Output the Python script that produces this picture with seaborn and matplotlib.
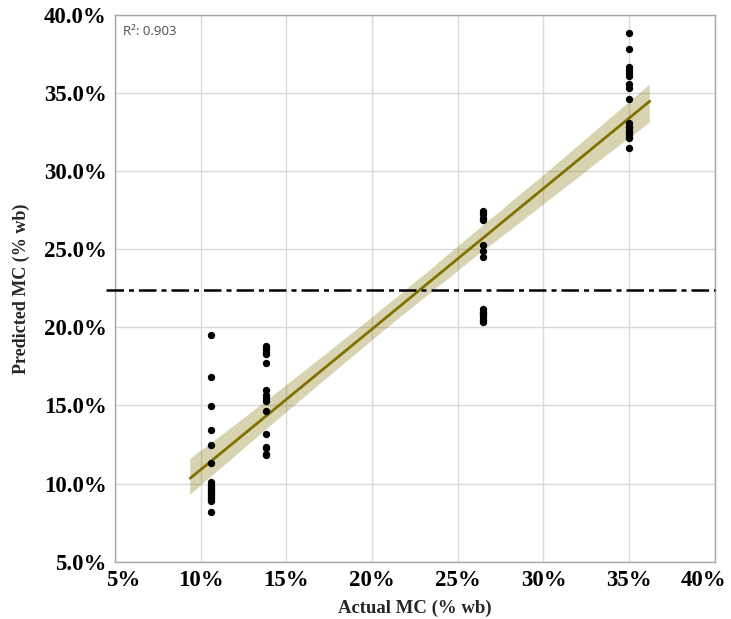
import numpy as np
import pandas as pd
import matplotlib
matplotlib.use("Agg")
import matplotlib.pyplot as plt
from matplotlib.ticker import FuncFormatter
from matplotlib.transforms import ScaledTranslation
import seaborn as sns

# Actual moisture content levels (% wb) and predicted values at each level
actual_levels = [10.6, 13.8, 26.5, 35.0]
pred_10_6 = [19.5, 16.8, 14.95, 13.4, 12.5, 11.3, 10.1, 9.9, 9.8, 9.65, 9.5, 9.4,
             9.3, 9.15, 9.0, 8.9, 8.2]
pred_13_8 = [18.8, 18.6, 18.45, 18.3, 17.75, 16.0, 15.7, 15.45, 15.3, 14.65, 13.2,
             12.35, 12.3, 11.9, 11.8]
pred_26_5 = [27.45, 27.25, 27.0, 26.85, 25.3, 24.9, 24.5, 21.15, 21.0, 20.9, 20.8,
             20.65, 20.5, 20.35]
pred_35_0 = [38.85, 37.85, 36.7, 36.5, 36.3, 36.1, 35.55, 35.3, 34.65, 33.1, 32.85,
             32.8, 32.6, 32.5, 32.35, 32.2, 32.1, 31.5]
r2_label = "R\u00b2: 0.903"
threshold = 22.4
x_ticks = [5, 10, 15, 20, 25, 30, 35, 40]
y_ticks = [5, 10, 15, 20, 25, 30, 35, 40]

groups = [pred_10_6, pred_13_8, pred_26_5, pred_35_0]
df = pd.DataFrame({
    "actual": np.concatenate([[a] * len(g) for a, g in zip(actual_levels, groups)]),
    "predicted": np.concatenate(groups),
})

sns.set_style("white")
fig = plt.figure(figsize=(7.31, 6.19), dpi=100)
ax = fig.add_axes([0.157, 0.0926, 0.821, 0.8832])

grid_c = "#d9d9d9"
spine_c = "#a6a6a6"
olive = "#7f7200"

# fitted line spans slightly beyond the measured range
ax.set_xlim(9.4, 36.2)
sns.regplot(data=df, x="actual", y="predicted", ax=ax, scatter=False,
            truncate=False, ci=95, seed=3,
            line_kws=dict(color=olive, lw=2.0, zorder=4))
for coll in ax.collections:
    coll.set_alpha(0.3)
    coll.set_facecolor(olive)
    coll.set_edgecolor("none")
    coll.set_zorder(3)

sns.scatterplot(data=df, x="actual", y="predicted", ax=ax, color="black",
                s=28, edgecolor="black", linewidth=0, zorder=5)

ax.axhline(threshold, xmin=-0.014, xmax=1.0, color="black", lw=1.8,
           dashes=(7, 2, 2, 2), clip_on=False, zorder=6)

ax.set_xlim(5, 40)
ax.set_ylim(5, 40)
ax.set_xticks(x_ticks)
ax.set_yticks(y_ticks)
ax.xaxis.set_major_formatter(FuncFormatter(lambda v, p: f"{v:.0f}%"))
ax.yaxis.set_major_formatter(FuncFormatter(lambda v, p: f"{v:.1f}%"))
ax.grid(True, color=grid_c, lw=1.0, zorder=0)
ax.set_axisbelow(True)
for s in ax.spines.values():
    s.set_color(spine_c)
    s.set_linewidth(1.0)
ax.tick_params(axis="both", length=4, width=1.0, color=spine_c, pad=2,
               labelsize=16.5, labelcolor="black")
for lab in ax.get_xticklabels() + ax.get_yticklabels():
    lab.set_family("Liberation Serif")
    lab.set_fontweight("bold")

# keep the outer x tick labels inside the figure
xlabs = ax.get_xticklabels()
xlabs[0].set_transform(xlabs[0].get_transform() +
                       ScaledTranslation(8 / 100, 0, fig.dpi_scale_trans))
xlabs[-1].set_transform(xlabs[-1].get_transform() +
                        ScaledTranslation(-11 / 100, 0, fig.dpi_scale_trans))

ax.set_xlabel("Actual MC (% wb)", family="Liberation Serif", fontweight="bold",
              fontsize=13.5, labelpad=6)
ax.set_ylabel("Predicted MC (% wb)", family="Liberation Serif", fontweight="bold",
              fontsize=13, labelpad=10)

ax.text(0.014, 0.982, r2_label, transform=ax.transAxes, ha="left", va="top",
        fontsize=9.5, color="#4d4d4d", family="Open Sans")

fig.savefig("out.png", dpi=100)
